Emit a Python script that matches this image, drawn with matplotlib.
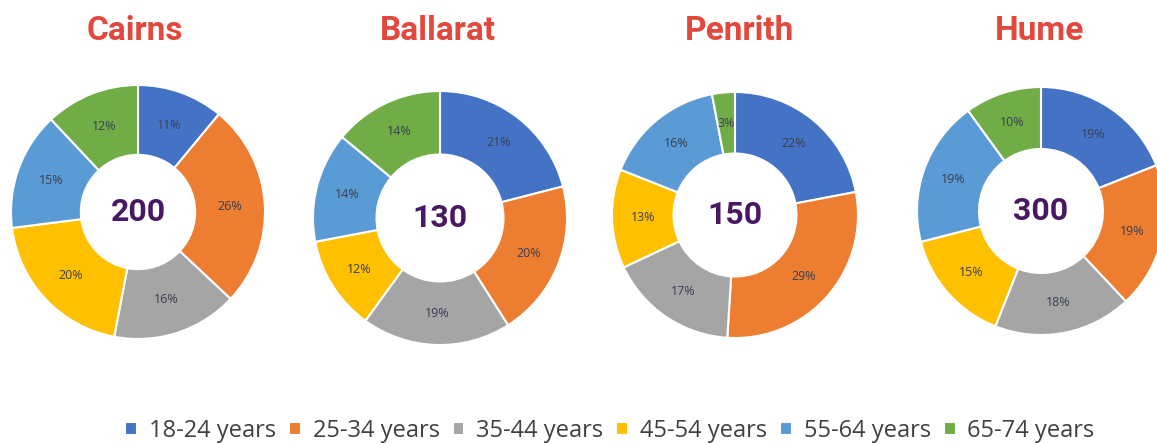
import matplotlib
matplotlib.use("Agg")
import matplotlib.pyplot as plt
import numpy as np

# age groups and colours (Office palette)
age_groups = ["18-24 years", "25-34 years", "35-44 years",
              "45-54 years", "55-64 years", "65-74 years"]
colors = ["#4472C4", "#ED7D31", "#A5A5A5", "#FFC000", "#5B9BD5", "#70AD47"]

cities = ["Cairns", "Ballarat", "Penrith", "Hume"]
totals = [200, 130, 150, 300]

cairns = [11, 26, 16, 20, 15, 12]
ballarat = [21, 20, 19, 12, 14, 14]
penrith = [22, 29, 17, 13, 16, 3]
hume = [19, 19, 18, 15, 19, 10]
shares = [cairns, ballarat, penrith, hume]

W, H = 1157, 443
fig = plt.figure(figsize=(W / 100, H / 100), dpi=100)
ax = fig.add_axes([0, 0, 1, 1])

# donut geometry in pixels: centre x, centre y (from top), radius, hole ratio
centers = [(138, 212), (440, 218), (735, 215), (1041, 211)]
radii = [127, 127, 123, 124]
holes = [0.45, 0.5, 0.5, 0.5]
title_x = [135, 438, 740, 1040]

wedges_ref = None
for city, total, vals, (cx, cy), r, hole, tx in zip(cities, totals, shares,
                                                      centers, radii, holes, title_x):
    wedges, _ = ax.pie(vals, colors=colors, center=(cx, H - cy), radius=r,
                       startangle=90, counterclock=False,
                       wedgeprops=dict(width=r * (1 - hole), edgecolor="white",
                                       linewidth=1.5))
    if wedges_ref is None:
        wedges_ref = wedges
    # percentage labels in the middle of the ring
    mid = r * (1 + hole) / 2
    for w, v in zip(wedges, vals):
        ang = np.deg2rad((w.theta1 + w.theta2) / 2)
        ax.text(cx + mid * np.cos(ang), H - cy + mid * np.sin(ang), f"{v}%",
                ha="center", va="center", fontsize=9, color="#3b3f52",
                family="Open Sans")
    ax.text(cx, H - cy, str(total), ha="center", va="center", fontsize=23,
            fontweight="bold", color="#4a1863", family="Roboto")
    ax.text(tx, H - 31, city, ha="center", va="center", fontsize=24,
            fontweight="bold", color="#E2483D", family="Roboto")

ax.set_xlim(0, W)
ax.set_ylim(0, H)
ax.set_aspect("equal")
ax.axis("off")

leg = fig.legend(wedges_ref, age_groups, loc="center",
                 bbox_to_anchor=(610 / W, 1 - 431 / H),
                 ncol=6, frameon=False, handlelength=0.5, handleheight=0.5,
                 handletextpad=0.5, columnspacing=0.55,
                 prop=dict(family="Open Sans", size=17))
for t in leg.get_texts():
    t.set_color("#404040")

fig.savefig("out.png", dpi=100)
